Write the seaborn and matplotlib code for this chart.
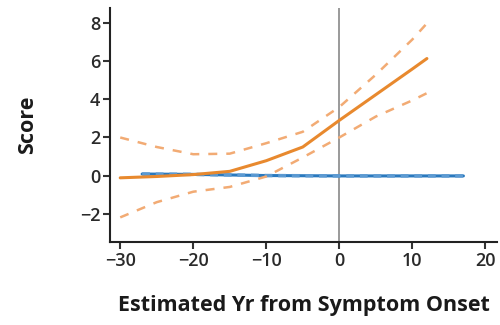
import matplotlib
matplotlib.use("Agg")
import matplotlib.pyplot as plt
import seaborn as sns
import pandas as pd

# Estimated years from symptom onset and model estimates (mean with 95% bounds)
yrs_carrier = [-30, -25, -20, -15, -10, -5, 0, 5, 10, 12]
carrier_mean = [-0.12, -0.05, 0.05, 0.22, 0.78, 1.5, 2.9, 4.25, 5.6, 6.15]
carrier_upper = [2.0, 1.5, 1.12, 1.15, 1.7, 2.3, 3.6, 5.3, 7.15, 8.0]
carrier_lower = [-2.2, -1.4, -0.85, -0.6, -0.05, 0.95, 2.0, 3.1, 3.95, 4.33]

yrs_noncarrier = [-27, -20, -10, 0, 10, 17]
noncarrier_mean = [0.08, 0.06, 0.0, -0.02, -0.02, -0.02]
noncarrier_upper = [0.12, 0.1, 0.04, 0.02, 0.02, 0.02]
noncarrier_lower = [0.04, 0.02, -0.04, -0.06, -0.06, -0.06]

xticks = [-30, -20, -10, 0, 10, 20]
yticks = [-2, 0, 2, 4, 6, 8]

ORANGE = "#E8892E"
ORANGE_LIGHT = "#F2AB74"
BLUE = "#2A79BE"
BLUE_LIGHT = "#5C9AD2"

sns.set_style("white")
plt.rcParams["font.family"] = ["Open Sans", "DejaVu Sans"]

fig = plt.figure(figsize=(5, 3.25), dpi=100)
ax = fig.add_axes([0.22, 0.255, 0.774, 0.72])

ax.axvline(0, color="#9a9a9a", lw=1.4, zorder=1)

def frame(x, y):
    return pd.DataFrame({"x": x, "y": y})

# non-carriers
sns.lineplot(data=frame(yrs_noncarrier, noncarrier_mean), x="x", y="y", ax=ax,
             color=BLUE, lw=2.2, zorder=3)
for b in (noncarrier_upper, noncarrier_lower):
    sns.lineplot(data=frame(yrs_noncarrier, b), x="x", y="y", ax=ax,
                 color=BLUE_LIGHT, lw=1.4, zorder=4,
                 linestyle=(0, (4, 3)))

# mutation carriers
sns.lineplot(data=frame(yrs_carrier, carrier_mean), x="x", y="y", ax=ax,
             color=ORANGE, lw=2.2, zorder=5)
for b in (carrier_upper, carrier_lower):
    sns.lineplot(data=frame(yrs_carrier, b), x="x", y="y", ax=ax,
                 color=ORANGE_LIGHT, lw=1.8, zorder=5,
                 linestyle=(0, (3.6, 3.6)))

ax.set_xlim(-31.4, 21.6)
ax.set_ylim(-3.5, 8.8)
ax.set_xticks(xticks)
ax.set_yticks(yticks)
ax.set_xticklabels([str(t).replace("-", "\u2212") for t in xticks])
ax.set_yticklabels([str(t).replace("-", "\u2212") for t in yticks])
for lab in ax.get_xticklabels() + ax.get_yticklabels():
    lab.set_fontweight("semibold")

for s in ("top", "right"):
    ax.spines[s].set_visible(False)
for s in ("left", "bottom"):
    ax.spines[s].set_color("#222222")
    ax.spines[s].set_linewidth(1.5)

ax.tick_params(axis="both", direction="out", length=5, width=1.5,
               color="#333333", labelsize=13, labelcolor="#2a2a2a", pad=2,
               bottom=True, left=True)

ax.set_xlabel("Estimated Yr from Symptom Onset", fontsize=15.5,
              fontweight="bold", color="#1a1a1a", labelpad=18)
ax.set_ylabel("Score", fontsize=15.5, fontweight="bold", color="#1a1a1a",
              labelpad=30)

fig.savefig("out.png", dpi=100, facecolor="white")
